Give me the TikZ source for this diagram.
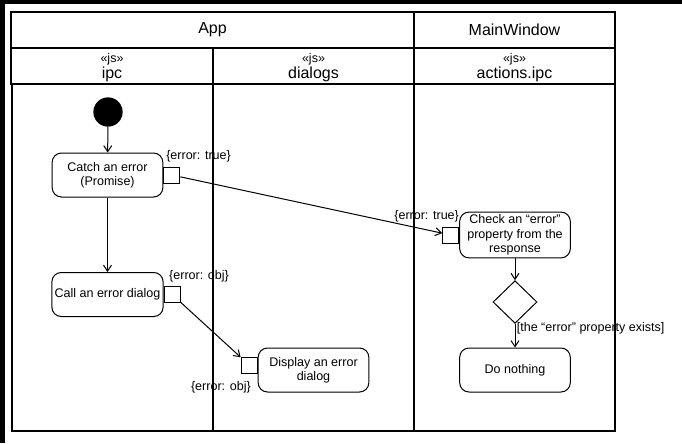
\documentclass[tikz,border=0pt]{standalone}
\usepackage{fontspec}
\setmainfont{Liberation Sans}
\usetikzlibrary{arrows.meta,positioning,shapes.geometric}

\begin{document}
\begin{tikzpicture}[
    x=0.75pt, y=-0.75pt,
    action/.style={rectangle, rounded corners=7pt, draw, line width=0.75pt, minimum width=83pt, minimum height=33pt, font=\fontsize{9.4}{10.8}\selectfont, inner sep=2pt, align=center},
    pin/.style={rectangle, draw, line width=0.75pt, minimum size=12pt, inner sep=0pt},
    pinlabel/.style={font=\fontsize{9.4}{10.8}\selectfont, inner sep=1pt},
    initial/.style={circle, fill=black, minimum size=22pt, inner sep=0pt},
    decision/.style={diamond, draw, line width=0.75pt, minimum width=33pt, minimum height=32pt, inner sep=0pt},
    lanetitle/.style={font=\fontsize{12}{14}\selectfont, inner sep=0pt},
    stereo/.style={font=\fontsize{9.4}{10.8}\selectfont, inner sep=0pt},
    guard/.style={font=\fontsize{9.4}{10.8}\selectfont, inner sep=1pt},
    arr/.style={-{Straight Barb[length=4.5pt, width=6pt]}, line width=0.75pt},
    frame/.style={line width=0.8pt},
]
\useasboundingbox (0,0) rectangle (682,443);
\fill[black] (0,0) rectangle (682,4);
\fill[black] (0,0) rectangle (5,443);

% Pool header
\draw[frame] (11,12) rectangle (615,84);
\draw[frame] (11,48) -- (615,48);
\draw[frame] (414,12) -- (414,84);
\draw[frame] (213,48) -- (213,84);
\node[lanetitle] (app) at (212.5,30) {App};
\node[lanetitle] (mainwin) at (514.5,30) {MainWindow};

% Lane headers
\node[stereo] (s1) at (112,59) {«js»};
\node[lanetitle] (ipc) at (112,74) {ipc};
\node[stereo] (s2) at (313.5,59) {«js»};
\node[lanetitle] (dialogs) at (313.5,74) {dialogs};
\node[stereo] (s3) at (514.5,59) {«js»};
\node[lanetitle] (actipc) at (514.5,74) {actions.ipc};

% Lanes
\draw[frame] (12,84) rectangle (615,431);
\draw[frame] (213,84) -- (213,431);
\draw[frame] (414,84) -- (414,431);

% ipc
\node[initial] (start) at (108,112) {};
\node[action] (catch) at (107.5,175) {Catch an error\\(Promise)};
\node[pin, right=0pt of catch] (pinA) {};
\node[pinlabel, anchor=south west, xshift=1pt, yshift=2pt] (labA) at (pinA.north west) {\{error: true\}};
\node[action] (call) at (107.5,294.5) {Call an error dialog};
\node[pin, right=0pt of call] (pinB) {};
\node[pinlabel, anchor=south west, xshift=3pt, yshift=2pt] (labB) at (pinB.north west) {\{error: obj\}};

% dialogs
\node[action] (display) at (313.5,370) {Display an error\\dialog};
\node[pin, left=0pt of display, yshift=3.75pt] (pinD) {};
\node[pinlabel, anchor=north east, xshift=-4pt, yshift=-5pt] (labD) at (pinD.south east) {\{error: obj\}};

% actions.ipc
\node[action] (check) at (515,235) {Check an ``error''\\property from the\\response};
\node[pin, left=0pt of check] (pinC) {};
\node[pinlabel, anchor=south east, xshift=1pt, yshift=2pt] (labC) at (pinC.north east) {\{error: true\}};
\node[decision] (dec) at (515,302) {};
\node[action] (nothing) at (515,370) {Do nothing};

% Flows
\draw[arr] (start) -- (catch);
\draw[arr] (catch) -- (call);
\draw[arr] (pinA) -- (pinC);
\draw[arr] (pinB) -- (pinD);
\draw[arr] (check) -- (dec);
\draw[arr] (dec) -- node[guard, anchor=west, pos=0.2] {[the ``error'' property exists]} (nothing);

\end{tikzpicture}
\end{document}
